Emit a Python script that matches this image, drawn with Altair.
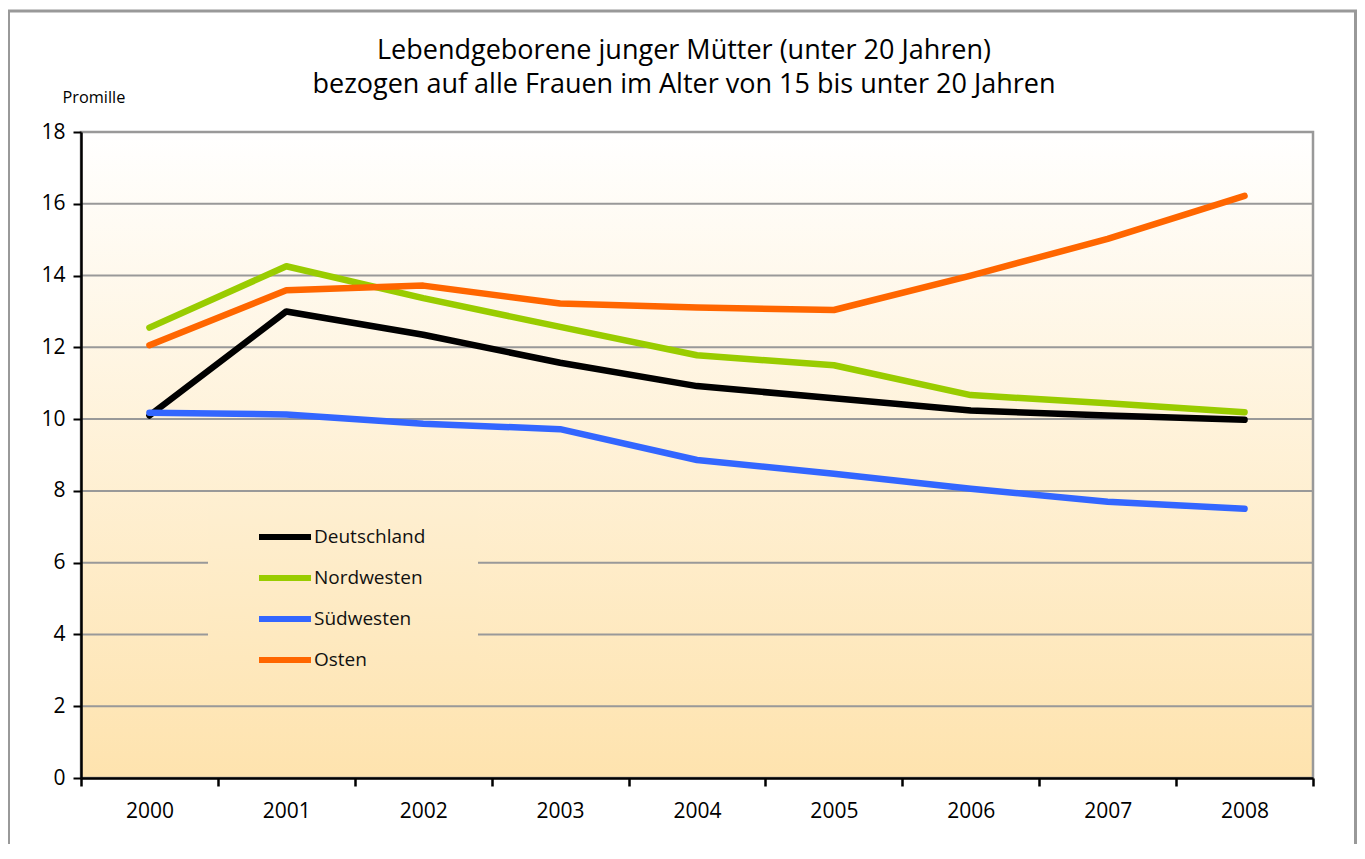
import altair as alt
import pandas as pd

years = ["2000", "2001", "2002", "2003", "2004", "2005", "2006", "2007", "2008"]
series_names = ["Deutschland", "Nordwesten", "Südwesten", "Osten"]
deutschland = [10.1, 13.0, 12.35, 11.57, 10.92, 10.58, 10.24, 10.1, 9.98]
nordwesten = [12.55, 14.26, 13.37, 12.57, 11.78, 11.5, 10.67, 10.44, 10.19]
suedwesten = [10.18, 10.13, 9.87, 9.72, 8.86, 8.48, 8.06, 7.7, 7.5]
osten = [12.06, 13.59, 13.72, 13.22, 13.11, 13.04, 14.0, 15.02, 16.22]
colors = ["#000000", "#99cc00", "#3366ff", "#ff6600"]
y_ticks = list(range(0, 19))
grid_values = [2, 4, 6, 8, 10, 12, 14, 16, 18]

rows = []
for name, vals in zip(series_names, [deutschland, nordwesten, suedwesten, osten]):
    for yr, v in zip(years, vals):
        rows.append({"Jahr": yr, "Region": name, "Wert": v, "order": series_names.index(name)})
df = pd.DataFrame(rows)
grid_df = pd.DataFrame({"Wert": grid_values})

FONT = "Open Sans"

y_scale = alt.Scale(domain=[0, 18], nice=False)

background = alt.Chart(pd.DataFrame({"a": [0]})).mark_rect(
    fill=alt.Gradient(gradient="linear", x1=0, y1=0, x2=0, y2=1,
                      stops=[alt.GradientStop(offset=0, color="#ffffff"),
                             alt.GradientStop(offset=1, color="#fee3ae")]),
    stroke="#999999", strokeWidth=2.5,
).encode(x=alt.value(0), x2=alt.value("width"), y=alt.value(0), y2=alt.value("height"))

grid = alt.Chart(grid_df).mark_rule(color="#999999", strokeWidth=2).encode(
    y=alt.Y("Wert:Q", scale=y_scale)
)

legend_fill = {"expr": "{gradient: 'linear', x1: 0, y1: 0, x2: 0, y2: 1, "
                       "stops: [{offset: 0, color: '#feefd1'}, {offset: 1, color: '#fee7ba'}]}"}

lines = alt.Chart(df).mark_line(strokeWidth=6.5, strokeCap="round", strokeJoin="round").encode(
    x=alt.X("Jahr:N", sort=years,
            scale=alt.Scale(type="band", paddingInner=0, paddingOuter=0),
            axis=alt.Axis(title=None, tickBand="extent", labelAngle=0, labelFont=FONT,
                          labelFontSize=21, labelColor="#000000", labelPadding=14,
                          domainColor="#000000", domainWidth=2.5, tickColor="#000000",
                          tickWidth=2.5, tickSize=8, grid=False, zindex=1)),
    y=alt.Y("Wert:Q", scale=y_scale,
            axis=alt.Axis(values=y_ticks, title="Promille", titleAngle=0, titleX=-19, titleY=-30,
                          titleAlign="left", titleBaseline="alphabetic", titleFont=FONT,
                          titleFontSize=16.3, titleFontWeight="normal", titleColor="#000000",
                          labelExpr="datum.value % 2 === 0 ? datum.label : ''",
                          labelFont=FONT, labelFontSize=21, labelColor="#000000", labelPadding=8,
                          domainColor="#000000", domainWidth=2.5, tickColor="#000000",
                          tickWidth=2, tickSize=8, grid=False, zindex=1)),
    color=alt.Color("Region:N", sort=series_names,
                    scale=alt.Scale(domain=series_names, range=colors),
                    legend=alt.Legend(title=None, orient="none", legendX=127, legendY=366,
                                      fillColor=legend_fill, padding=10, symbolType="stroke",
                                      symbolSize=2704, symbolStrokeWidth=6, symbolOffset=38,
                                      labelOffset=0, rowPadding=-12.5, labelFont=FONT,
                                      labelFontSize=19, labelColor="#111111", labelLimit=400,
                                      labelExpr="datum.label + '\u2800\u2800\u2800'")),
    order=alt.Order("order:Q"),
)

frame = alt.Chart(pd.DataFrame({"a": [0]})).mark_rect(
    fill="transparent", stroke="#999999", strokeWidth=3
).encode(
    x=alt.value(-72.5), x2=alt.value(1274.5), y=alt.value(-121), y2=alt.value(900)
)

chart = alt.layer(background, grid, lines, frame).properties(
    width=1232,
    height=646,
    padding={"left": 73, "top": 124, "right": 44, "bottom": 66},
    autosize=alt.AutoSizeParams(type="none"),
    title=alt.TitleParams(
        ["Lebendgeborene junger Mütter (unter 20 Jahren)",
         "bezogen auf alle Frauen im Alter von 15 bis unter 20 Jahren"],
        font=FONT, fontSize=27, fontWeight="normal", color="#000000",
        anchor="middle", frame="group", dx=-13, dy=121, lineHeight=34, offset=32),
).configure_view(
    stroke=None
).configure(background="#ffffff")

chart.save("out.html", embed_options={"renderer": "svg", "actions": False})
